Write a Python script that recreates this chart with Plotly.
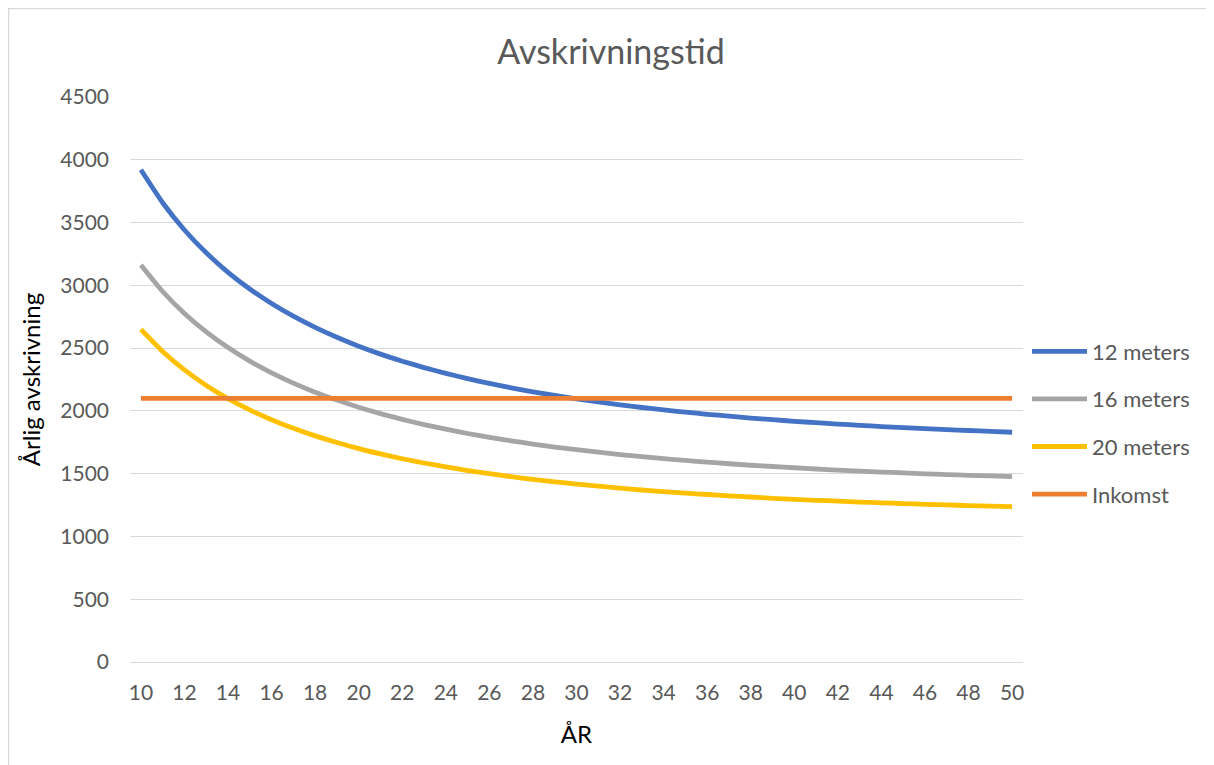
import plotly.graph_objects as go

years = list(range(10, 51))
m12 = [3920, 3658, 3441, 3259, 3104, 2971, 2855, 2754, 2665, 2586, 2515,
       2452, 2396, 2345, 2299, 2257, 2219, 2184, 2152, 2123, 2096,
       2071, 2048, 2027, 2008, 1990, 1973, 1958, 1943, 1930, 1917,
       1906, 1895, 1885, 1875, 1867, 1858, 1851, 1844, 1837, 1830]
m16 = [3162, 2951, 2776, 2629, 2504, 2396, 2303, 2221, 2149, 2086, 2029,
       1978, 1933, 1891, 1854, 1820, 1790, 1762, 1736, 1712, 1691,
       1671, 1652, 1635, 1620, 1605, 1592, 1579, 1567, 1557, 1547,
       1537, 1528, 1520, 1513, 1506, 1499, 1493, 1487, 1482, 1476]
m20 = [2649, 2473, 2326, 2203, 2098, 2008, 1930, 1861, 1801, 1748, 1700,
       1658, 1619, 1585, 1554, 1525, 1500, 1476, 1455, 1435, 1417,
       1400, 1385, 1370, 1357, 1345, 1334, 1323, 1314, 1304, 1296,
       1288, 1281, 1274, 1268, 1262, 1256, 1251, 1246, 1242, 1237]
inkomst = [2100] * len(years)

series = [
    ("12 meters", m12, "#4472C4"),
    ("16 meters", m16, "#A5A5A5"),
    ("20 meters", m20, "#FFC000"),
    ("Inkomst", inkomst, "#ED7D31"),
]

fig = go.Figure()
for name, vals, col in series:
    fig.add_trace(go.Scatter(
        x=years, y=vals, name=name, mode="lines", legendgroup=name,
        line=dict(color=col, width=4.8, shape="spline", smoothing=0.6),
    ))

W, H = 1206, 757
L, R, T, B = 122, 191, 89, 103
PW, PH = W - L - R, H - T - B

font = "Lato, 'Open Sans', sans-serif"
fig.update_layout(
    width=W, height=H,
    margin=dict(l=L, r=R, t=T, b=B),
    paper_bgcolor="white", plot_bgcolor="white",
    font=dict(family=font, color="#595959", size=21),
    title=dict(text="Avskrivningstid", x=0.5, xref="container", xanchor="center",
               y=1 - 44 / H, yref="container", yanchor="middle",
               font=dict(size=34, color="#595959", family=font)),
    showlegend=True,
    legend=dict(x=1 + 4 / PW, xanchor="left", y=0.423, yanchor="middle",
                tracegroupgap=16, font=dict(size=22, color="#595959"),
                bgcolor="rgba(0,0,0,0)", itemwidth=55),
    xaxis=dict(range=[9.5, 50.5], tickmode="linear", tick0=10, dtick=2,
               showgrid=False, showline=True, linecolor="#D9D9D9", linewidth=1,
               zeroline=False, ticks="", ticklabelstandoff=12,
               tickfont=dict(size=21, color="#595959"),
               title=dict(text="ÅR", font=dict(size=24, color="black"), standoff=22)),
    yaxis=dict(range=[0, 4500], tickmode="linear", tick0=0, dtick=500,
               showgrid=True, gridcolor="#D9D9D9", gridwidth=1,
               zeroline=False, showline=False, ticks="", ticklabelstandoff=20,
               tickfont=dict(size=21, color="#595959"),
               title=dict(text="Årlig avskrivning", font=dict(size=24, color="black"), standoff=12)),
)

fig.add_shape(type="rect", xref="paper", yref="paper",
              x0=(0.5 - L) / PW, x1=2, y0=-1, y1=1 + (T - 0.5) / PH,
              line=dict(color="#D9D9D9", width=1.5), fillcolor="rgba(0,0,0,0)", layer="below")

fig.write_html("out.html")
